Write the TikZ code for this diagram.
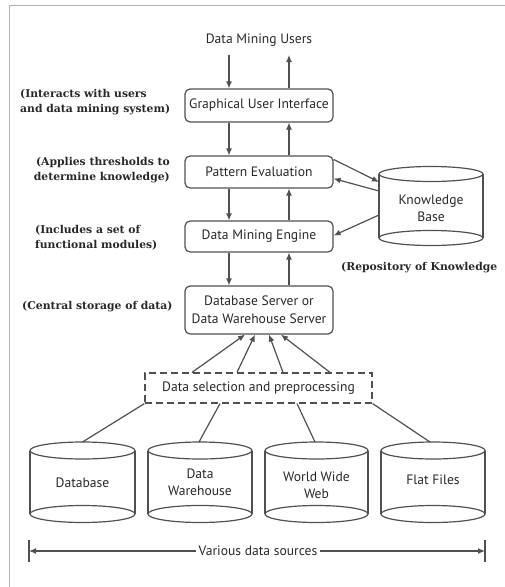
\documentclass[tikz,border=0pt]{standalone}
\usepackage{fontspec}
\setmainfont{PT Sans}
\newfontfamily\labfont{DejaVu Serif}
\usetikzlibrary{arrows.meta}
\definecolor{ln}{HTML}{505050}
\definecolor{tx}{HTML}{282828}
\tikzset{
  box/.style={draw=ln, line width=1.2pt, rounded corners=5pt, minimum width=148pt, align=center, text=tx, font=\fontsize{13.6}{18}\selectfont, inner sep=2pt},
  arr/.style={draw=ln, line width=1.2pt, -{Latex[length=7pt,width=6pt]}},
  plain/.style={draw=ln, line width=1.2pt},
  lab/.style={text=tx, font=\labfont\bfseries\fontsize{10.8}{15}\selectfont, inner sep=0pt},
  btxt/.style={text=tx, font=\fontsize{13.6}{17}\selectfont, align=center, inner sep=0pt},
  cyl/.style={draw=ln, line width=1.2pt}
}
\newcommand{\mycyl}[5]{% x1 x2 ytop ybot ry
  \draw[cyl] (#1,#3) -- (#1,#4);
  \draw[cyl] (#2,#3) -- (#2,#4);
  \draw[cyl] ({(#1+#2)/2},#3) ellipse [x radius={(#2-#1)/2}, y radius=#5];
  \draw[cyl] ({(#1+#2)/2},#4) ellipse [x radius={(#2-#1)/2}, y radius=#5];
}
\begin{document}
\begin{tikzpicture}[x=1pt,y=-1pt]
\useasboundingbox (0,0) rectangle (505,587);
% frame
\draw[gray!60, line width=1pt] (9,587) -- (9,5) -- (505,5);

% top text
\node[btxt] (users) at (259,40) {Data Mining Users};
\coordinate (u1) at (229,55);
\coordinate (u2) at (289,55);

% boxes
\node[box, minimum height=33pt] (gui) at (259,105.5) {Graphical User Interface};
\node[box, minimum height=32pt] (pe) at (259,172) {Pattern Evaluation};
\node[box, minimum height=31pt] (dme) at (259,236.5) {Data Mining Engine};
\node[box, minimum height=48pt] (dbs) at (259,310) {Database Server or\\Data Warehouse Server};
\node[box, dashed, dash pattern=on 7pt off 4pt, rounded corners=0pt, minimum width=227pt, minimum height=30pt] (dsel) at (258.5,388) {Data selection and preprocessing};

% vertical arrows
\draw[arr] (u1) -- (u1 |- gui.north);
\draw[arr] (u2 |- gui.north) -- (u2);
\draw[arr] ([xshift=-30pt]gui.south) -- ([xshift=-30pt]pe.north);
\draw[arr] ([xshift=30pt]pe.north) -- ([xshift=30pt]gui.south);
\draw[arr] ([xshift=-30pt]pe.south) -- ([xshift=-30pt]dme.north);
\draw[arr] ([xshift=30pt]dme.north) -- ([xshift=30pt]pe.south);
\draw[arr] ([xshift=-30pt]dme.south) -- ([xshift=-30pt]dbs.north);
\draw[arr] ([xshift=30pt]dbs.north) -- ([xshift=30pt]dme.south);

% knowledge base
\mycyl{379}{483}{174}{238}{7.5}
\node[btxt] (kb) at (431,208) {Knowledge\\Base};
\coordinate (kb1) at (379,182);
\coordinate (kb2) at (379,191);
\coordinate (kb3) at (379,215);
\draw[arr] ([yshift=-4pt]pe.north east) -- (kb1);
\draw[arr] (kb2) -- ([yshift=10pt]pe.south east);
\draw[arr] (kb3) -- ([yshift=1pt]dme.east);

% arrows from selection to server
\draw[arr] ([xshift=-66.5pt]dsel.north) -- ([xshift=-14pt]dbs.south);
\draw[arr] ([xshift=-21.5pt]dsel.north) -- ([xshift=-4pt]dbs.south);
\draw[arr] ([xshift=24.5pt]dsel.north) -- ([xshift=10pt]dbs.south);
\draw[arr] ([xshift=71.5pt]dsel.north) -- ([xshift=22pt]dbs.south);

% data sources
\mycyl{30}{135}{450.5}{514}{8.5}
\mycyl{148}{252}{450.5}{514}{8.5}
\mycyl{265}{368}{450.5}{514}{8.5}
\mycyl{381}{485}{450.5}{514}{8.5}
\node[btxt] (db) at (82.5,483) {Database};
\node[btxt] (dw) at (200,482) {Data\\Warehouse};
\node[btxt] (www) at (316.5,485) {World Wide\\Web};
\node[btxt] (ff) at (433,480) {Flat Files};
\coordinate (c1) at (82.5,442);
\coordinate (c2) at (199,442);
\coordinate (c3) at (315,442);
\coordinate (c4) at (430,442);
\draw[plain] (dsel.south west) -- (c1);
\draw[plain] ([xshift=-38.5pt]dsel.south) -- (c2);
\draw[plain] ([xshift=38.5pt]dsel.south) -- (c3);
\draw[plain] (dsel.south east) -- (c4);

% various data sources
\node[btxt] (vds) at (258,551) {Various data sources};
\coordinate (vl) at (29,551);
\coordinate (vr) at (485,551);
\draw[arr] ([xshift=-3pt]vds.west) -- (vl);
\draw[arr] ([xshift=3pt]vds.east) -- (vr);
\draw[plain] (29,540) -- (29,562);
\draw[plain] (485,540) -- (485,562);

% labels
\node[lab, anchor=west, align=left] (l1) at (20,102.5) {(Interacts with users\\and data mining system)};
\node[lab, anchor=east, align=right] (l2) at (170,170.5) {(Applies thresholds to\\determine knowledge)};
\node[lab, anchor=west, align=left] (l3) at (35,238) {(Includes a set of\\functional modules)};
\node[lab, anchor=west] (l4) at (22,307) {(Central storage of data)};
\node[lab, anchor=west] (l5) at (341,268) {(Repository of Knowledge};
\end{tikzpicture}
\end{document}
